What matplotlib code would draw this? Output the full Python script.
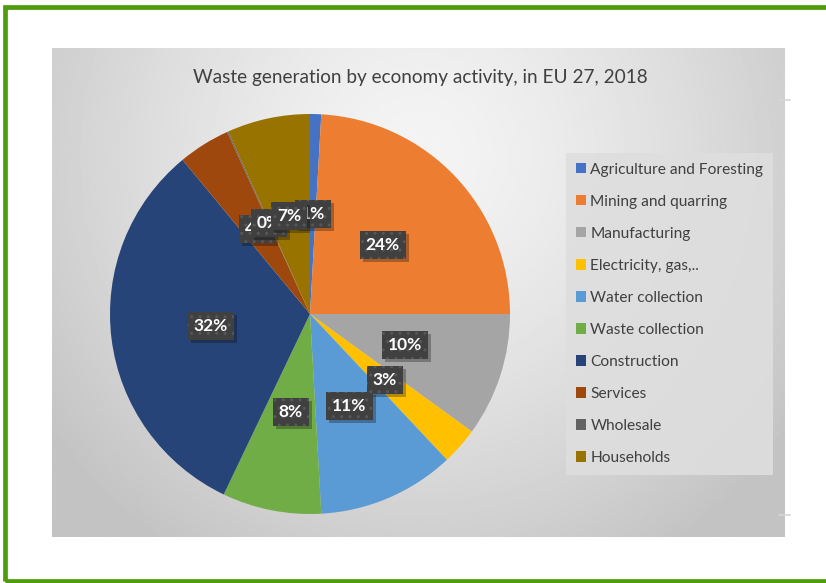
import numpy as np
import matplotlib as mpl
mpl.use('Agg')
import matplotlib.pyplot as plt
from matplotlib.patches import Rectangle, Patch
from matplotlib.lines import Line2D
from matplotlib.transforms import IdentityTransform

sectors = ["Agriculture and Foresting", "Mining and quarring", "Manufacturing",
           "Electricity, gas,..", "Water collection", "Waste collection",
           "Construction", "Services", "Wholesale", "Households"]
shares = [0.9, 24.1, 10.0, 3.0, 11.1, 8.0, 31.9, 4.2, 0.1, 6.7]
colors = ["#4472C4", "#ED7D31", "#A5A5A5", "#FFC000", "#5B9BD5",
          "#70AD47", "#264478", "#9E480E", "#636363", "#997300"]

W, H = 826, 583
plt.rcParams['font.family'] = ['Lato', 'DejaVu Sans']
fig = plt.figure(figsize=(W / 100, H / 100), dpi=100)


def fx(px):
    return px / W


def fy(py):
    return 1 - py / H


# gray gradient panel behind the chart
bg = fig.add_axes([fx(52), fy(537), fx(785) - fx(52), fy(48) - fy(537)])
yy, xx = np.mgrid[0:1:300j, 0:1:450j]
d = np.sqrt(((xx - 0.5) / 0.62) ** 2 + ((yy - 0.22) / 0.95) ** 2)
shade = 244 - 48 * np.clip(d, 0, 1) ** 1.4
bg.imshow(shade, cmap='gray', vmin=0, vmax=255, aspect='auto',
          extent=(0, 1, 1, 0), interpolation='bilinear')
bg.set_xlim(0, 1)
bg.set_ylim(1, 0)
bg.axis('off')

# pie
cx, cy, r = 310, 314, 200
ax = fig.add_axes([fx(cx - r), fy(cy + r), fx(2 * r), fy(cy - r) - fy(cy + r)])
wedges, texts, autotexts = ax.pie(shares, colors=colors, startangle=90, counterclock=False,
                                  autopct='%.0f%%', pctdistance=0.5,
                                  textprops=dict(color='white', fontsize=12.5, fontweight='bold'))
ax.set_xlim(-1, 1)
ax.set_ylim(-1, 1)
ax.set_aspect('equal')

# dark dotted label boxes
for i, t in enumerate(autotexts):
    t.set_zorder(11 + 2 * i)
    t.set_bbox(dict(boxstyle='square,pad=0.34', facecolor='#404040', edgecolor='#575757',
                    linewidth=0, hatch='..'))

# drop shadow under each box, placed once the box sizes are known
fig.canvas.draw()
for i, t in enumerate(autotexts):
    bb = t.get_bbox_patch().get_window_extent()
    ax.add_patch(Rectangle((bb.x0 + 3, bb.y0 - 3), bb.width, bb.height,
                           transform=IdentityTransform(), facecolor='black', alpha=0.28,
                           edgecolor='none', clip_on=False, zorder=10 + 2 * i))

fig.text(fx(420), fy(77), "Waste generation by economy activity, in EU 27, 2018",
         ha='center', va='center', fontsize=13.7, color='#404040')

handles = [Patch(facecolor=c, edgecolor='none') for c in colors]
leg = fig.legend(handles, sectors, loc='upper left', bbox_to_anchor=(fx(566), fy(153)),
                 borderaxespad=0, frameon=True, fontsize=11.2, labelcolor='#404040',
                 handlelength=0.65, handleheight=0.65, handletextpad=0.3,
                 labelspacing=1.16, borderpad=0.62, fancybox=False)
leg.get_frame().set_facecolor('#dedede')
leg.get_frame().set_edgecolor('none')
leg.get_frame().set_alpha(0.9)

# small marks at the panel's right edge
for py in (100, 515):
    fig.add_artist(Line2D([fx(779), fx(790)], [fy(py), fy(py)], color='#d6d6d6', lw=1.2))

# green outer frame
fig.add_artist(Rectangle((fx(5), fy(581)), 1.1, fy(7) - fy(581), transform=fig.transFigure,
                         facecolor='none', edgecolor='#4f9c0c', linewidth=3.4))

fig.savefig('out.png', dpi=100)
